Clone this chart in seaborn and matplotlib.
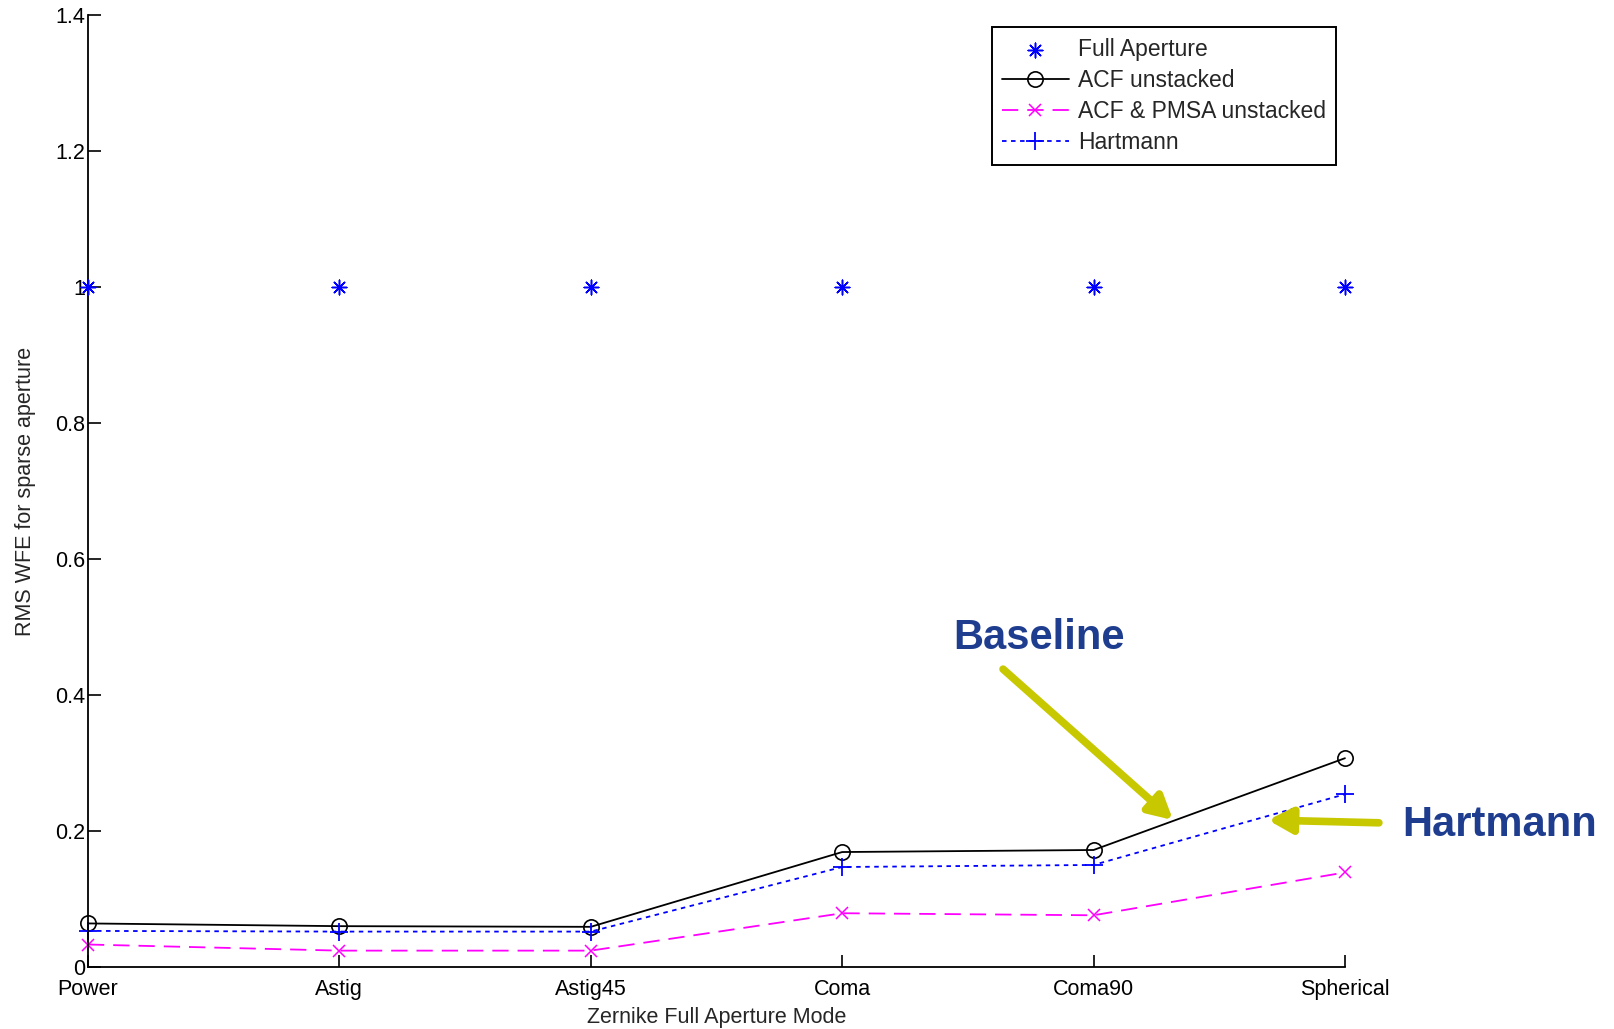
import pandas as pd
import seaborn as sns
import matplotlib.pyplot as plt
from matplotlib.ticker import FormatStrFormatter

modes = ["Power", "Astig", "Astig45", "Coma", "Coma90", "Spherical"]
full_aperture = [1.0, 1.0, 1.0, 1.0, 1.0, 1.0]
acf_unstacked = [0.064, 0.060, 0.059, 0.169, 0.172, 0.307]
acf_pmsa_unstacked = [0.033, 0.024, 0.024, 0.079, 0.076, 0.139]
hartmann = [0.053, 0.052, 0.052, 0.147, 0.150, 0.254]
y_ticks = [0, 0.2, 0.4, 0.6, 0.8, 1.0, 1.2, 1.4]

pos = list(range(len(modes)))

sns.set_style("ticks")
plt.rcParams["font.family"] = ["Liberation Sans", "DejaVu Sans"]

fig = plt.figure(figsize=(16.14, 10.29), dpi=100)
ax = fig.add_axes([0.0545, 0.0603, 0.7788, 0.9251])

sns.scatterplot(x=pos, y=full_aperture, ax=ax, marker=(8, 2, 0), s=110,
                color="blue", edgecolor="blue", linewidth=1.1, label="Full Aperture",
                zorder=5, clip_on=False)
sns.lineplot(x=pos, y=acf_unstacked, ax=ax, color="black", linewidth=1.3,
             marker="o", markersize=11, markerfacecolor="none", markeredgecolor="black",
             markeredgewidth=1.2, label="ACF unstacked", clip_on=False)
sns.lineplot(x=pos, y=acf_pmsa_unstacked, ax=ax, color="magenta", linewidth=1.3,
             linestyle=(0, (9, 5)), marker="x", markersize=8, markeredgewidth=1.1,
             markeredgecolor="magenta", label="ACF & PMSA unstacked", clip_on=False)
sns.lineplot(x=pos, y=hartmann, ax=ax, color="blue", linewidth=1.3,
             linestyle=(0, (2.5, 2.5)), marker="+", markersize=13, markeredgewidth=1.3,
             markeredgecolor="blue", label="Hartmann", clip_on=False)

ax.set_xlim(0, 5)
ax.set_ylim(0, 1.4)
ax.set_xticks(pos)
ax.set_xticklabels(modes)
ax.set_yticks(y_ticks)
ax.yaxis.set_major_formatter(FormatStrFormatter("%g"))
ax.tick_params(direction="in", length=9, width=1.2, labelsize=15.5, colors="black")
ax.tick_params(axis="x", pad=9)
ax.tick_params(axis="y", pad=2)
sns.despine(ax=ax)
for s in ["left", "bottom"]:
    ax.spines[s].set_linewidth(1.3)
    ax.spines[s].set_color("black")

ax.set_xlabel("Zernike Full Aperture Mode", fontsize=15.5, labelpad=5)
ax.set_ylabel("RMS WFE for sparse aperture", fontsize=15.5, labelpad=14)

leg = ax.legend(loc="upper right", bbox_to_anchor=(0.993, 0.987), fontsize=16.5,
                frameon=True, fancybox=False, framealpha=1, edgecolor="black",
                handlelength=2.9, labelspacing=0.36, borderpad=0.45,
                handletextpad=0.4, borderaxespad=0)
leg.get_frame().set_linewidth(1.4)

arrow_col = "#c8c800"
text_col = "#1f3d8f"
ax.annotate("", xy=(4.316, 0.216), xytext=(3.64, 0.438),
            arrowprops=dict(arrowstyle="-|>,head_length=1.4,head_width=0.75",
                            color=arrow_col, lw=5.5, shrinkA=0, shrinkB=0))
ax.annotate("", xy=(4.694, 0.216), xytext=(5.135, 0.212), annotation_clip=False,
            arrowprops=dict(arrowstyle="-|>,head_length=1.4,head_width=0.75",
                            color=arrow_col, lw=5.5, shrinkA=0, shrinkB=0))
ax.text(3.783, 0.484, "Baseline", ha="center", va="center", fontsize=30,
        fontweight="bold", color=text_col)
ax.text(5.617, 0.209, "Hartmann", ha="center", va="center", fontsize=30,
        fontweight="bold", color=text_col, clip_on=False)

fig.savefig("out.png", dpi=100)
